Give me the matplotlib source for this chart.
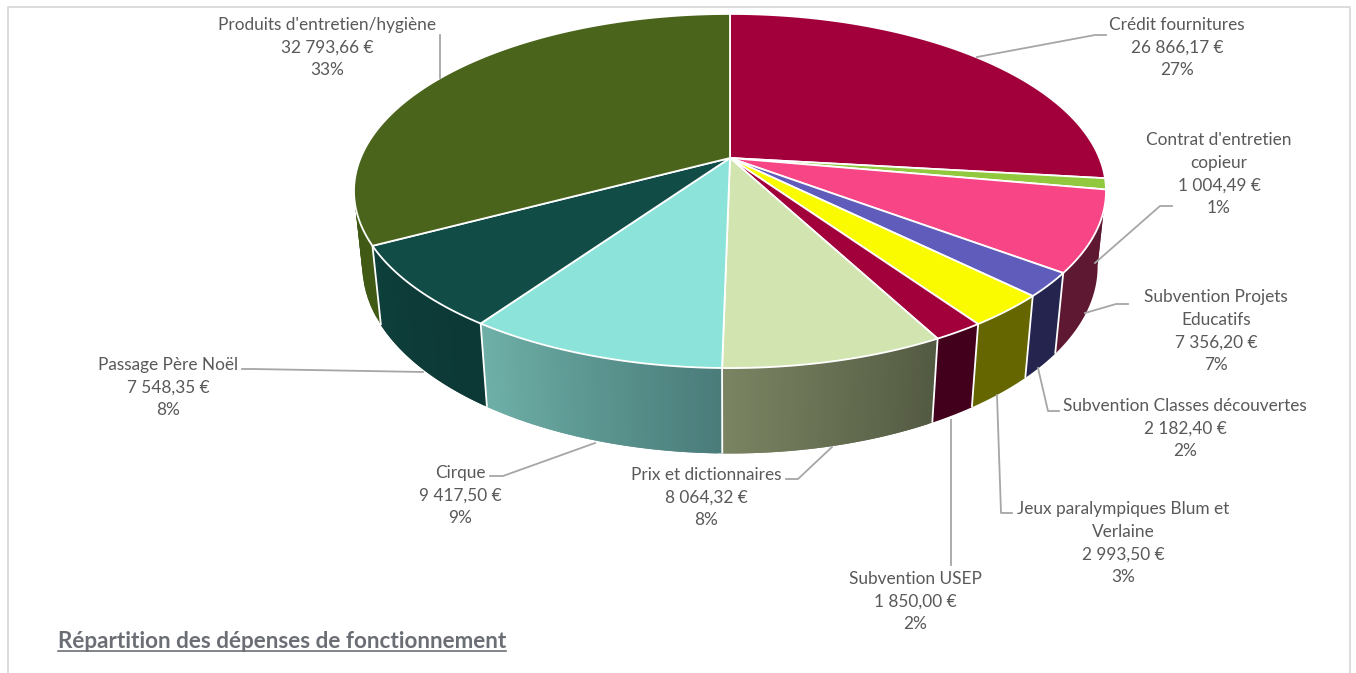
import numpy as np
import matplotlib
matplotlib.use("Agg")
import matplotlib.pyplot as plt
from matplotlib.patches import Polygon
from matplotlib.collections import PolyCollection
from matplotlib.colors import to_rgb

# donnees du graphique
noms = [["Crédit fournitures"], ["Contrat d'entretien", "copieur"], ["Subvention Projets", "Educatifs"],
        ["Subvention Classes découvertes"], ["Jeux paralympiques Blum et", "Verlaine"], ["Subvention USEP"],
        ["Prix et dictionnaires"], ["Cirque"], ["Passage Père Noël"], ["Produits d'entretien/hygiène"]]
valeurs = [26866.17, 1004.49, 7356.20, 2182.40, 2993.50, 1850.00, 8064.32, 9417.50, 7548.35, 32793.66]
titre = "Répartition des dépenses de fonctionnement"

# couleurs : dessus, cote (debut / fin de l'arc)
dessus = ["#A2003B", "#92C83E", "#F74586", "#5F5CBB", "#FBFB00", "#A2003B", "#D2E5B0", "#8BE3DA", "#114C47", "#4A641C"]
cote_a = ["#5F1832", "#5F1832", "#5F1832", "#25244F", "#666600", "#43001C", "#535A42", "#4A7C7A", "#0C3835", "#405A15"]
cote_b = ["#5F1832", "#5F1832", "#5F1832", "#25244F", "#666600", "#43001C", "#7A8462", "#6EB0A8", "#0E3F3B", "#3E5714"]

# position des etiquettes : x du centre, y de la premiere ligne
etiq_x = [1177, 1219, 1216, 1185, 1123, 915, 706, 460, 168, 327]
etiq_y = [25, 140, 297, 406, 509, 579, 475, 473, 365, 25]
pas = 22.6

# traits de rappel en pixels
rappels = [[(977, 57), (1095, 35), (1106, 35)],
           [(1095, 263), (1160, 206), (1172, 206)],
           [(1085, 313), (1116, 304), (1128, 304)],
           [(1038, 368), (1048, 411), (1059, 411)],
           [(997, 395), (1001, 513), (1012, 513)],
           [(951, 420), (951, 565)],
           [(832, 447), (798, 479), (786, 479)],
           [(595, 443), (503, 476), (490, 476)],
           [(423, 372), (253, 369), (242, 369)],
           [(440, 78), (440, 35)]]

# perspective du camembert
cx, cy = 730, 158
a, b, k = 369.4, 170.9, 0.1864
d, e = 76, 0.022


def projette(theta, z):
    x = np.sin(theta)
    y = -np.cos(theta)
    w = 1 - k * y + e * z
    return cx + a * x / w, cy + (b * y + d * z) / w


fig = plt.figure(figsize=(13.56, 6.73), dpi=100)
ax = fig.add_axes([0, 0, 1, 1])
ax.set_xlim(0, 1356)
ax.set_ylim(673, 0)
ax.axis("off")

plt.rcParams["font.family"] = ["Lato", "DejaVu Sans"]

# cadre
ax.plot([8, 8, 1350, 1350], [673, 7, 7, 673], color="#D9D9D9", lw=1.3, zorder=0)

total = sum(valeurs)
bornes = np.concatenate([[0], np.cumsum(valeurs)]) / total * 2 * np.pi
ordre = np.argsort(-np.cos((bornes[:-1] + bornes[1:]) / 2))

# cotes, du fond vers l'avant
for i in ordre[::-1]:
    t = np.linspace(bornes[i], bornes[i + 1], 60)
    x0, y0 = projette(t, 0)
    x1, y1 = projette(t, 1)
    if cote_a[i] == cote_b[i]:
        # couleur unie : un seul polygone
        pts = np.vstack([np.column_stack([x0, y0]), np.column_stack([x1, y1])[::-1]])
        ax.add_patch(Polygon(pts, closed=True, facecolor=cote_a[i], edgecolor="none", zorder=1))
        continue
    quads = []
    coul = []
    ca, cb = np.array(to_rgb(cote_a[i])), np.array(to_rgb(cote_b[i]))
    for j in range(len(t) - 1):
        # chaque bande deborde sur la suivante pour eviter les rayures
        f = min(j + 2, len(t) - 1)
        quads.append([(x0[j], y0[j]), (x0[f], y0[f]), (x1[f], y1[f]), (x1[j], y1[j])])
        coul.append(ca + (cb - ca) * j / (len(t) - 2))
    ax.add_collection(PolyCollection(quads, facecolors=coul, edgecolors="none", zorder=1))

# separations blanches sur les cotes (seulement celles bien visibles)
for t in bornes[:-1]:
    if -np.cos(t) < 0.3:
        continue
    x0, y0 = projette(t, 0)
    x1, y1 = projette(t, 1)
    ax.plot([x0, x1], [y0, y1], color="white", lw=1.3, zorder=2, solid_capstyle="butt")

# dessus
for i in range(len(valeurs)):
    t = np.linspace(bornes[i], bornes[i + 1], 200)
    x0, y0 = projette(t, 0)
    pts = np.vstack([[cx, cy], np.column_stack([x0, y0])])
    ax.add_patch(Polygon(pts, closed=True, facecolor=dessus[i], edgecolor="white", lw=1.3, joinstyle="round", zorder=3))

for r in rappels:
    ax.plot([p[0] for p in r], [p[1] for p in r], color="#A6A6A6", lw=1.3, zorder=4)

# etiquettes
for i in range(len(valeurs)):
    montant = f"{valeurs[i]:,.2f}".replace(",", " ").replace(".", ",") + " €"
    pct = f"{valeurs[i] / total * 100:.0f}%"
    lignes = noms[i] + [montant, pct]
    for n, ligne in enumerate(lignes):
        ax.text(etiq_x[i], etiq_y[i] + n * pas, ligne, ha="center", va="center", fontsize=12.45, color="#595959", zorder=5)

tt = ax.text(58, 641, titre, ha="left", va="center", fontsize=16.2, fontweight="bold", color="#6B6E74", zorder=5)
fig.canvas.draw()
bb = tt.get_window_extent()
ax.plot([bb.x0, bb.x1], [651, 651], color="#6B6E74", lw=1.2, zorder=5)

fig.savefig("out.png", dpi=100)
